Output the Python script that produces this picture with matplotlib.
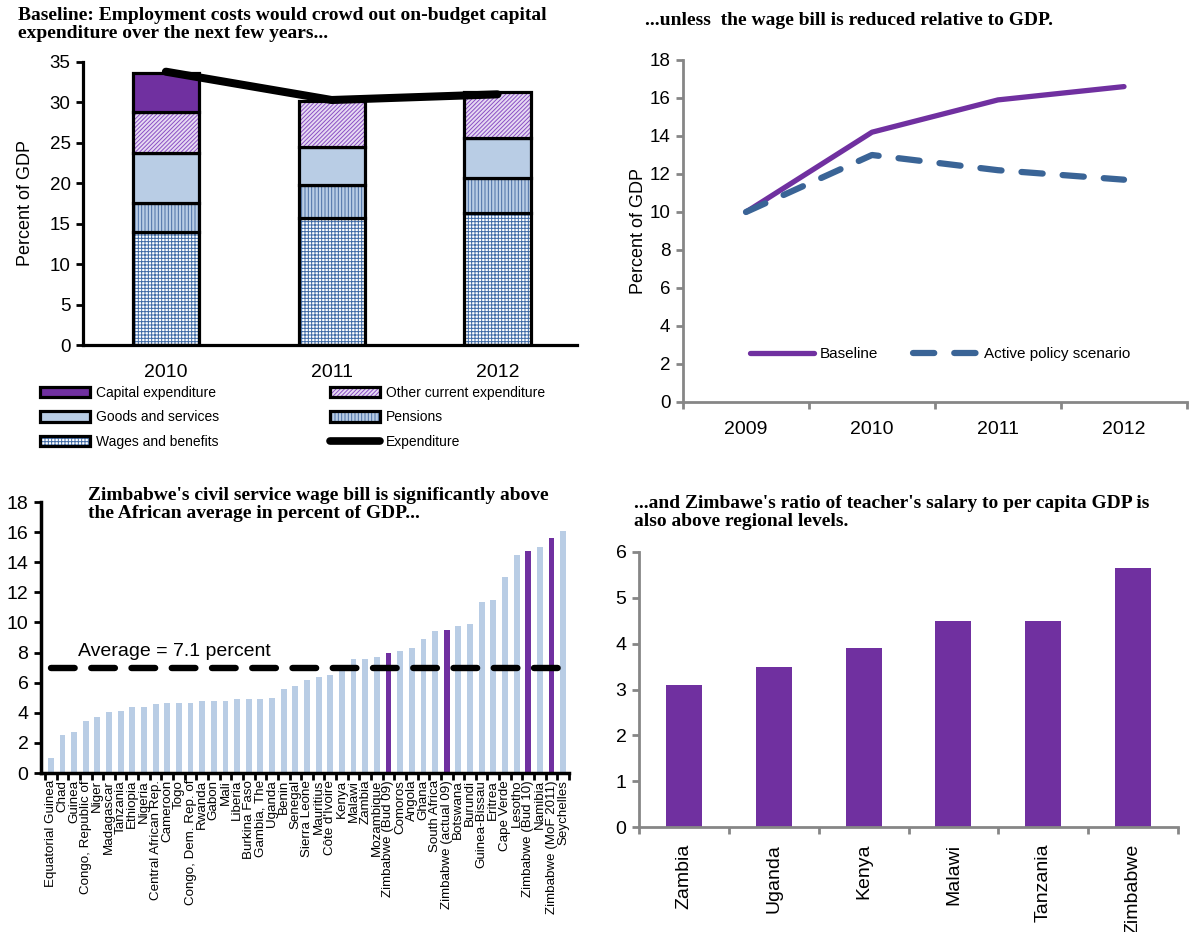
import numpy as np
import matplotlib
matplotlib.use("Agg")
import matplotlib.pyplot as plt
from matplotlib.patches import Patch
from matplotlib.lines import Line2D
from matplotlib.ticker import FixedLocator

plt.rcParams["font.family"] = ["Liberation Sans", "DejaVu Sans"]
plt.rcParams["hatch.linewidth"] = 0.7

PURPLE = "#7030A0"
LIGHT_BLUE = "#B9CDE5"
STEEL = "#3A6496"
GREY = "#868686"
TITLE = dict(family="Liberation Serif", weight="bold", size=14, va="top", ha="left")

# ── data: stacked expenditure (top left) ─────────────────
years_a = ["2010", "2011", "2012"]
wages = [14.0, 15.7, 16.3]
pensions = [3.6, 4.1, 4.3]
goods = [6.2, 4.7, 4.95]
other_current = [5.0, 5.7, 5.7]
capital = [4.9, 0.0, 0.0]
expenditure = [33.8, 30.3, 31.0]

# ── data: wage bill scenarios (top right) ────────────────
years_b = ["2009", "2010", "2011", "2012"]
baseline = [10.0, 14.2, 15.9, 16.6]
active_policy = [10.0, 13.0, 12.2, 11.7]

# ── data: African wage bills (bottom left) ───────────────
countries = [
    "Equatorial Guinea", "Chad", "Guinea", "Congo, Republic of", "Niger",
    "Madagascar", "Tanzania", "Ethiopia", "Nigeria", "Central African Rep.",
    "Cameroon", "Togo", "Congo, Dem. Rep. of", "Rwanda", "Gabon", "Mali",
    "Liberia", "Burkina Faso", "Gambia, The", "Uganda", "Benin", "Senegal",
    "Sierra Leone", "Mauritius", "Côte d'Ivoire", "Kenya", "Malawi", "Zambia",
    "Mozambique", "Zimbabwe (Bud 09)", "Comoros", "Angola", "Ghana",
    "South Africa", "Zimbabwe (actual 09)", "Botswana", "Burundi",
    "Guinea-Bissau", "Eritrea", "Cape Verde", "Lesotho", "Zimbabwe (Bud 10)",
    "Namibia", "Zimbabwe (MoF 2011)", "Seychelles",
]
wage_bill = [
    1.0, 2.5, 2.7, 3.45, 3.7, 4.05, 4.15, 4.4, 4.4, 4.55,
    4.65, 4.65, 4.65, 4.8, 4.8, 4.8, 4.9, 4.9, 4.9, 5.0,
    5.6, 5.75, 6.2, 6.35, 6.5, 6.85, 7.6, 7.6, 7.7, 8.0,
    8.1, 8.3, 8.9, 9.4, 9.5, 9.75, 9.9, 11.35, 11.5, 13.05,
    14.5, 14.75, 15.0, 15.6, 16.1,
]
african_avg = 7.0
avg_label = "Average = 7.1 percent"

# ── data: teacher salary ratio (bottom right) ────────────
peers = ["Zambia", "Uganda", "Kenya", "Malawi", "Tanzania", "Zimbabwe"]
teacher_ratio = [3.1, 3.5, 3.9, 4.5, 4.5, 5.65]

W, H = 1193, 932
fig = plt.figure(figsize=(W / 100, H / 100), dpi=100)


def box(left, top, right, bottom):
    return [left / W, 1 - bottom / H, (right - left) / W, (bottom - top) / H]


# ── top left ─────────────────────────────────────────────
ax1 = fig.add_axes(box(83, 62, 577, 345))
x = np.arange(len(years_a))
layers = [
    ("Wages and benefits", wages, "white", "+++++", "#3F6AA6"),
    ("Pensions", pensions, LIGHT_BLUE, "|||||", "#4A6FA5"),
    ("Goods and services", goods, LIGHT_BLUE, "", LIGHT_BLUE),
    ("Other current expenditure", other_current, "#E6DAF2", "////////", "#8A4FC4"),
    ("Capital expenditure", capital, PURPLE, "", PURPLE),
]
bottom = np.zeros(len(x))
handles = {}
for label, vals, face, hatch, hcol in layers:
    vals = np.asarray(vals)
    ax1.bar(x, vals, 0.4, bottom=bottom, color=face, hatch=hatch,
            edgecolor=hcol, linewidth=0)
    keep = vals > 0
    ax1.bar(x[keep], vals[keep], 0.4, bottom=bottom[keep], fill=False,
            edgecolor="black", linewidth=2.3)
    bottom += vals
    handles[label] = (Patch(facecolor=face, hatch=hatch, edgecolor=hcol, linewidth=0),
                      Patch(fill=False, edgecolor="black", linewidth=2.3))
ax1.plot(x, expenditure, color="black", lw=5.8, solid_capstyle="round", zorder=5)
handles["Expenditure"] = Line2D([], [], color="black", lw=5.5, solid_capstyle="round")

ax1.set_xlim(-0.5, 2.48)
ax1.set_ylim(0, 35)
ax1.set_yticks(range(0, 36, 5))
ax1.set_xticks(x, years_a)
ax1.tick_params(axis="x", length=0, pad=14, labelsize=14)
ax1.tick_params(axis="y", length=5, width=2, labelsize=13.5, pad=4)
for s in ["top", "right"]:
    ax1.spines[s].set_visible(False)
for s in ["left", "bottom"]:
    ax1.spines[s].set_linewidth(2.3)
ax1.set_ylabel("Percent of GDP", fontsize=13, labelpad=11)

leg_kw = dict(frameon=False, fontsize=10, handlelength=3.6, handleheight=0.75,
              labelspacing=0.75, handletextpad=0.4, borderpad=0, borderaxespad=0,
              loc="upper left")
col1 = ["Capital expenditure", "Goods and services", "Wages and benefits"]
col2 = ["Other current expenditure", "Pensions", "Expenditure"]
fig.legend([handles[k] for k in col1], col1, bbox_to_anchor=(40 / W, 1 - 386 / H), **leg_kw)
fig.legend([handles[k] for k in col2], col2, bbox_to_anchor=(330 / W, 1 - 386 / H), **leg_kw)

fig.text(18 / W, 1 - 7 / H,
         "Baseline: Employment costs would crowd out on-budget capital\n"
         "expenditure over the next few years...", linespacing=1.1, **TITLE)

# ── top right ────────────────────────────────────────────
ax2 = fig.add_axes(box(683, 60, 1187, 402))
xb = np.arange(len(years_b))
ax2.plot(xb, baseline, color=PURPLE, lw=3.8, solid_capstyle="round", label="Baseline")
ax2.plot(xb, active_policy, color=STEEL, lw=4.5, dashes=(3.4, 3.2),
         dash_capstyle="round", label="Active policy scenario")
ax2.set_xlim(-0.5, len(years_b) - 0.5)
ax2.set_ylim(0, 18)
ax2.set_yticks(range(0, 19, 2))
ax2.set_xticks(xb, years_b)
ax2.xaxis.set_minor_locator(FixedLocator(np.arange(len(years_b) + 1) - 0.5))
ax2.tick_params(axis="x", which="major", length=0, pad=14, labelsize=14)
ax2.tick_params(axis="x", which="minor", length=5, width=2, color=GREY)
ax2.tick_params(axis="y", length=5, width=2, color=GREY, labelsize=13.5, pad=4)
for s in ["top", "right"]:
    ax2.spines[s].set_visible(False)
for s in ["left", "bottom"]:
    ax2.spines[s].set_linewidth(2)
    ax2.spines[s].set_color(GREY)
ax2.set_ylabel("Percent of GDP", fontsize=13, labelpad=2)
ax2.legend(ncol=2, frameon=False, fontsize=11, handlelength=4.2,
           handletextpad=0.4, columnspacing=2.3, loc="center left",
           bbox_to_anchor=(0.12, 0.14), borderaxespad=0)
fig.text(645 / W, 1 - 12 / H,
         "...unless  the wage bill is reduced relative to GDP.", **TITLE)

# ── bottom left ──────────────────────────────────────────
ax3 = fig.add_axes(box(41, 502, 569, 773))
xc = np.arange(len(countries))
bar_colors = [PURPLE if c.startswith("Zimbabwe") else LIGHT_BLUE for c in countries]
ax3.bar(xc, wage_bill, 0.5, color=bar_colors)
ax3.plot(xc, np.full(len(xc), african_avg), color="black", lw=4.6,
         dashes=(3.7, 2.6), dash_capstyle="round", zorder=4)
ax3.text(2.35, african_avg + 0.5, avg_label, fontsize=14, ha="left", va="bottom")
ax3.set_xlim(-0.84, len(countries) - 0.5)
ax3.set_ylim(0, 18)
ax3.set_yticks(range(0, 19, 2))
ax3.set_xticks(xc, countries, rotation=90)
ax3.xaxis.set_minor_locator(FixedLocator(np.arange(len(countries) + 1) - 0.5))
ax3.tick_params(axis="x", which="major", length=0, pad=5, labelsize=9.6)
ax3.tick_params(axis="x", which="minor", length=5, width=2)
ax3.tick_params(axis="y", length=5, width=2, labelsize=14, pad=4)
for s in ["top", "right"]:
    ax3.spines[s].set_visible(False)
for s in ["left", "bottom"]:
    ax3.spines[s].set_linewidth(2.5)
fig.text(88 / W, 1 - 487 / H,
         "Zimbabwe's civil service wage bill is significantly above\n"
         "the African average in percent of GDP...", linespacing=1.1, **TITLE)

# ── bottom right ─────────────────────────────────────────
ax4 = fig.add_axes(box(639, 552, 1178, 827))
xp = np.arange(len(peers))
ax4.bar(xp, teacher_ratio, 0.4, color=PURPLE)
ax4.set_xlim(-0.5, len(peers) - 0.5)
ax4.set_ylim(0, 6)
ax4.set_yticks(range(0, 7))
ax4.set_xticks(xp, peers, rotation=90)
ax4.xaxis.set_minor_locator(FixedLocator(np.arange(len(peers) + 1) - 0.5))
ax4.tick_params(axis="x", which="major", length=0, pad=12, labelsize=14)
ax4.tick_params(axis="x", which="minor", length=5, width=2, color=GREY)
ax4.tick_params(axis="y", length=5, width=2, color=GREY, labelsize=14, pad=4)
for s in ["top", "right"]:
    ax4.spines[s].set_visible(False)
for s in ["left", "bottom"]:
    ax4.spines[s].set_linewidth(2)
    ax4.spines[s].set_color(GREY)
fig.text(634 / W, 1 - 495 / H,
         "...and Zimbawe's ratio of teacher's salary to per capita GDP is\n"
         "also above regional levels.", linespacing=1.1, **TITLE)

fig.savefig("out.png", dpi=100)
